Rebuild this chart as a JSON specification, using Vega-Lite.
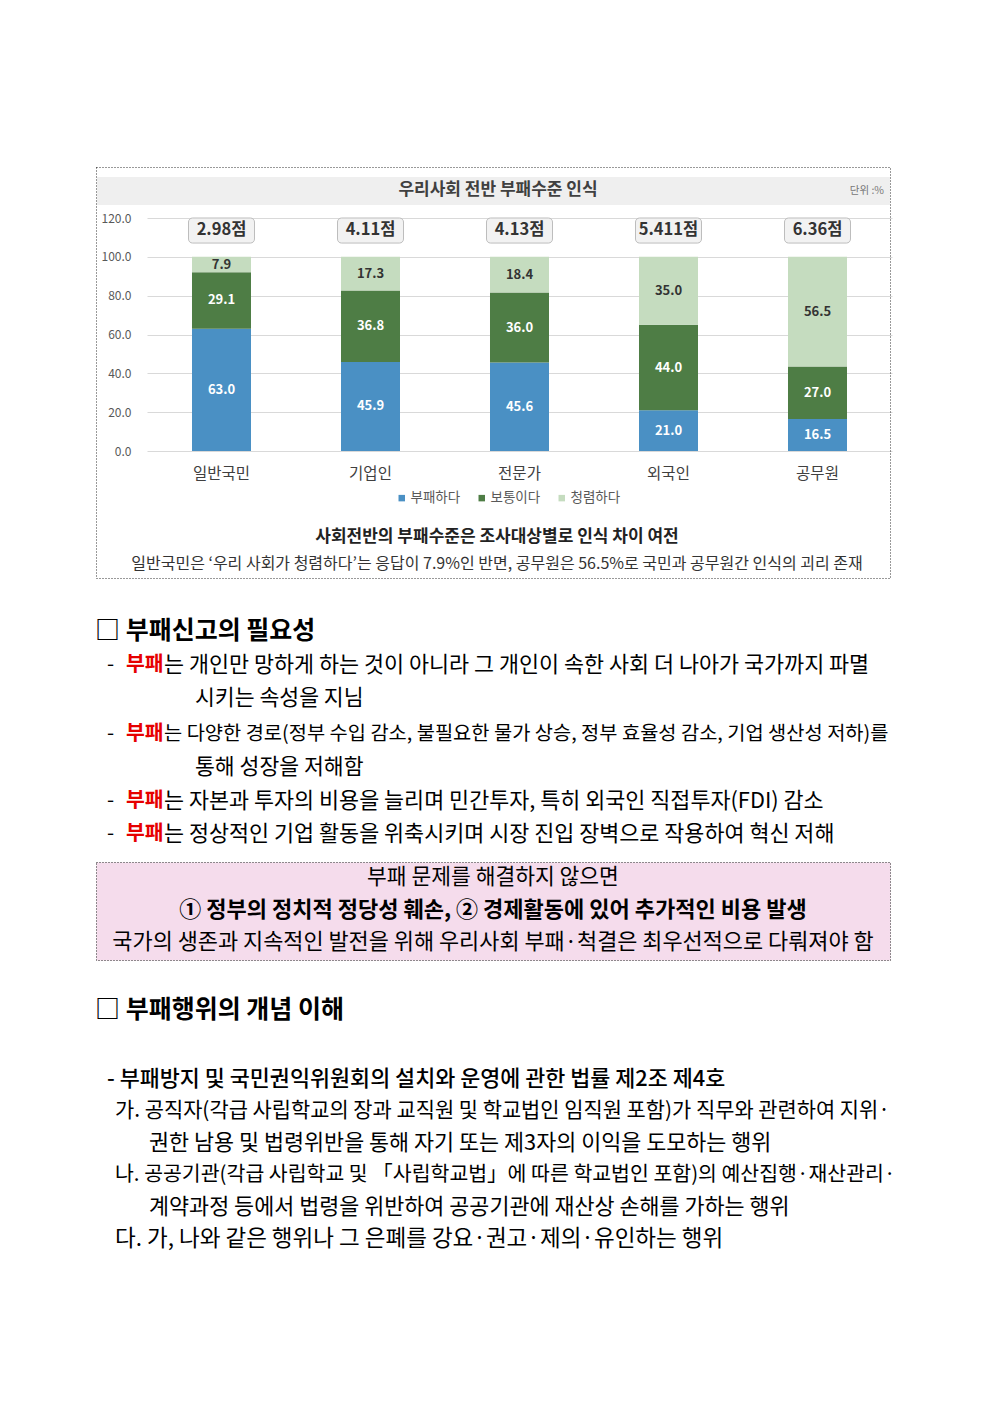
{
  "$schema": "https://vega.github.io/schema/vega-lite/v6.json",
  "width": 992,
  "height": 1403,
  "autosize": {"type": "none"},
  "padding": 0,
  "background": "#ffffff",
  "config": {"view": {"stroke": null}, "font": "Noto Sans CJK KR"},
  "data": {"values": [{}]},
  "layer": [
    {"mark": {"type": "rect", "fill": "transparent", "stroke": "#333333", "strokeDash": [1, 2], "strokeWidth": 1},
     "encoding": {"x": {"value": 96.5}, "x2": {"value": 890.5}, "y": {"value": 167.5}, "y2": {"value": 578.5}}},
    {"mark": {"type": "rect", "fill": "#efefef"},
     "encoding": {"x": {"value": 97}, "x2": {"value": 890}, "y": {"value": 177}, "y2": {"value": 205}}},
    {"mark": {"type": "rect", "fill": "#f5dcec", "stroke": "#222222", "strokeDash": [1, 2], "strokeWidth": 1},
     "encoding": {"x": {"value": 96.5}, "x2": {"value": 890.5}, "y": {"value": 862.5}, "y2": {"value": 960.5}}},
    {"mark": {"type": "text", "align": "center", "baseline": "middle", "fontSize": 17, "fontWeight": "bold", "color": "#404040"},
     "encoding": {"x": {"value": 498}, "y": {"value": 190}, "text": {"value": "우리사회 전반 부패수준 인식"}}},
    {"mark": {"type": "text", "align": "right", "baseline": "middle", "fontSize": 10.5, "color": "#777777"},
     "encoding": {"x": {"value": 884}, "y": {"value": 191}, "text": {"value": "단위 :%"}}},
    {
      "data": {"values": [
        {"group": "일반국민", "resp": "부패하다", "k": 1, "value": 63.0},
        {"group": "일반국민", "resp": "보통이다", "k": 2, "value": 29.1},
        {"group": "일반국민", "resp": "청렴하다", "k": 3, "value": 7.9},
        {"group": "기업인", "resp": "부패하다", "k": 1, "value": 45.9},
        {"group": "기업인", "resp": "보통이다", "k": 2, "value": 36.8},
        {"group": "기업인", "resp": "청렴하다", "k": 3, "value": 17.3},
        {"group": "전문가", "resp": "부패하다", "k": 1, "value": 45.6},
        {"group": "전문가", "resp": "보통이다", "k": 2, "value": 36.0},
        {"group": "전문가", "resp": "청렴하다", "k": 3, "value": 18.4},
        {"group": "외국인", "resp": "부패하다", "k": 1, "value": 21.0},
        {"group": "외국인", "resp": "보통이다", "k": 2, "value": 44.0},
        {"group": "외국인", "resp": "청렴하다", "k": 3, "value": 35.0},
        {"group": "공무원", "resp": "부패하다", "k": 1, "value": 16.5},
        {"group": "공무원", "resp": "보통이다", "k": 2, "value": 27.0},
        {"group": "공무원", "resp": "청렴하다", "k": 3, "value": 56.5}
      ]},
      "layer": [
        {
          "mark": {"type": "bar"},
          "encoding": {
            "x": {"field": "group", "type": "nominal",
                  "scale": {"domain": ["일반국민", "기업인", "전문가", "외국인", "공무원"], "range": [147, 892], "paddingInner": 0.604, "paddingOuter": 0.302},
                  "axis": {"orient": "bottom", "offset": -952, "labelPadding": 15, "labelAngle": 0, "domain": false, "ticks": false, "tickSize": 0, "grid": false, "title": null, "labelFontSize": 15.5, "labelColor": "#404040", "labelBaseline": "top"}},
            "y": {"field": "value", "type": "quantitative", "stack": "zero",
                  "scale": {"domain": [0, 120], "range": [451, 218], "nice": false, "zero": false},
                  "axis": {"values": [0, 20, 40, 60, 80, 100, 120], "format": ".1f", "grid": true, "gridColor": "#d9d9d9", "gridWidth": 1, "domain": false, "ticks": false, "tickSize": 0, "labelPadding": -131, "labelFontSize": 12, "labelColor": "#595959", "title": null}},
            "color": {"field": "resp", "type": "nominal",
                      "scale": {"domain": ["부패하다", "보통이다", "청렴하다"], "range": ["#4a90c4", "#4e7d45", "#c5dcbf"]},
                      "legend": {"orient": "none", "legendX": 395, "legendY": 491, "direction": "horizontal", "title": null, "symbolType": "square", "symbolSize": 42, "symbolStrokeWidth": 0, "labelFontSize": 13.5, "labelColor": "#595959", "columnPadding": 14, "labelOffset": 2}},
            "order": {"field": "k", "type": "quantitative"}
          }
        },
        {
          "transform": [
            {"stack": "value", "groupby": ["group"], "sort": [{"field": "k", "order": "ascending"}], "as": ["y0", "y1"]},
            {"fold": ["y0", "y1"], "as": ["end", "pos"]}
          ],
          "mark": {"type": "text", "align": "center", "baseline": "middle", "fontSize": 13, "fontWeight": "bold"},
          "encoding": {
            "x": {"field": "group", "type": "nominal",
                  "scale": {"domain": ["일반국민", "기업인", "전문가", "외국인", "공무원"], "range": [147, 892], "paddingInner": 0.604, "paddingOuter": 0.302},
                  "axis": {"orient": "bottom", "offset": -952, "labelPadding": 15, "labelAngle": 0, "domain": false, "ticks": false, "tickSize": 0, "grid": false, "title": null, "labelFontSize": 15.5, "labelColor": "#404040", "labelBaseline": "top"}},
            "y": {"aggregate": "mean", "field": "pos", "type": "quantitative", "stack": null,
                  "scale": {"domain": [0, 120], "range": [451, 218], "nice": false, "zero": false},
                  "axis": {"values": [0, 20, 40, 60, 80, 100, 120], "format": ".1f", "grid": true, "gridColor": "#d9d9d9", "gridWidth": 1, "domain": false, "ticks": false, "tickSize": 0, "labelPadding": -131, "labelFontSize": 12, "labelColor": "#595959", "title": null}},
            "detail": {"field": "resp", "type": "nominal"},
            "text": {"field": "value", "type": "quantitative", "format": ".1f"},
            "color": {"condition": {"test": "datum.resp === '청렴하다'", "value": "#333333"}, "value": "#ffffff"}
          }
        }
      ]
    },
    {
      "data": {"values": [
        {"group": "일반국민", "score": "2.98점"},
        {"group": "기업인", "score": "4.11점"},
        {"group": "전문가", "score": "4.13점"},
        {"group": "외국인", "score": "5.411점"},
        {"group": "공무원", "score": "6.36점"}
      ]},
      "layer": [
        {
          "mark": {"type": "bar", "width": 66, "cornerRadius": 4, "fill": "#f2f2f2", "stroke": "#bdbdbd", "strokeWidth": 1},
          "encoding": {
            "x": {"field": "group", "type": "nominal",
                  "scale": {"domain": ["일반국민", "기업인", "전문가", "외국인", "공무원"], "range": [147, 892], "paddingInner": 0.604, "paddingOuter": 0.302},
                  "axis": {"orient": "bottom", "offset": -952, "labelPadding": 15, "labelAngle": 0, "domain": false, "ticks": false, "tickSize": 0, "grid": false, "title": null, "labelFontSize": 15.5, "labelColor": "#404040", "labelBaseline": "top"}},
            "y": {"datum": 120, "type": "quantitative",
                  "scale": {"domain": [0, 120], "range": [451, 218], "nice": false, "zero": false},
                  "axis": {"values": [0, 20, 40, 60, 80, 100, 120], "format": ".1f", "grid": true, "gridColor": "#d9d9d9", "gridWidth": 1, "domain": false, "ticks": false, "tickSize": 0, "labelPadding": -131, "labelFontSize": 12, "labelColor": "#595959", "title": null}},
            "y2": {"datum": 107.1}
          }
        },
        {
          "mark": {"type": "text", "align": "center", "baseline": "middle", "fontSize": 16.5, "fontWeight": "bold", "color": "#333333"},
          "encoding": {
            "x": {"field": "group", "type": "nominal",
                  "scale": {"domain": ["일반국민", "기업인", "전문가", "외국인", "공무원"], "range": [147, 892], "paddingInner": 0.604, "paddingOuter": 0.302},
                  "axis": {"orient": "bottom", "offset": -952, "labelPadding": 15, "labelAngle": 0, "domain": false, "ticks": false, "tickSize": 0, "grid": false, "title": null, "labelFontSize": 15.5, "labelColor": "#404040", "labelBaseline": "top"}},
            "y": {"datum": 113.6, "type": "quantitative",
                  "scale": {"domain": [0, 120], "range": [451, 218], "nice": false, "zero": false},
                  "axis": {"values": [0, 20, 40, 60, 80, 100, 120], "format": ".1f", "grid": true, "gridColor": "#d9d9d9", "gridWidth": 1, "domain": false, "ticks": false, "tickSize": 0, "labelPadding": -131, "labelFontSize": 12, "labelColor": "#595959", "title": null}},
            "text": {"field": "score", "type": "nominal"}
          }
        }
      ]
    },
    {"mark": {"type": "text", "align": "center", "baseline": "middle", "fontSize": 17, "fontWeight": "bold", "color": "#222222"},
     "encoding": {"x": {"value": 497}, "y": {"value": 537}, "text": {"value": "사회전반의 부패수준은 조사대상별로 인식 차이 여전"}}},
    {"mark": {"type": "text", "align": "center", "baseline": "middle", "fontSize": 16, "color": "#333333"},
     "encoding": {"x": {"value": 497}, "y": {"value": 564}, "text": {"value": "일반국민은 ‘우리 사회가 청렴하다’는 응답이 7.9%인 반면, 공무원은 56.5%로 국민과 공무원간 인식의 괴리 존재"}}},

    {"mark": {"type": "text", "align": "left", "baseline": "middle", "fontSize": 25, "fontWeight": "bold", "color": "#000000"},
     "encoding": {"x": {"value": 95}, "y": {"value": 631}, "text": {"value": "□ 부패신고의 필요성"}}},

    {"mark": {"type": "text", "align": "left", "baseline": "middle", "fontSize": 20.5, "color": "#000000"},
     "encoding": {"x": {"value": 107}, "y": {"value": 665}, "text": {"value": "-"}}},
    {"mark": {"type": "text", "align": "left", "baseline": "middle", "fontSize": 20.5, "fontWeight": "bold", "color": "#e60000"},
     "encoding": {"x": {"value": 126}, "y": {"value": 665}, "text": {"value": "부패"}}},
    {"mark": {"type": "text", "align": "left", "baseline": "middle", "fontSize": 21.8, "color": "#000000"},
     "encoding": {"x": {"value": 164}, "y": {"value": 665}, "text": {"value": "는 개인만 망하게 하는 것이 아니라 그 개인이 속한 사회 더 나아가 국가까지 파멸"}}},
    {"mark": {"type": "text", "align": "left", "baseline": "middle", "fontSize": 21.6, "color": "#000000"},
     "encoding": {"x": {"value": 195}, "y": {"value": 699}, "text": {"value": "시키는 속성을 지님"}}},

    {"mark": {"type": "text", "align": "left", "baseline": "middle", "fontSize": 20.5, "color": "#000000"},
     "encoding": {"x": {"value": 107}, "y": {"value": 734}, "text": {"value": "-"}}},
    {"mark": {"type": "text", "align": "left", "baseline": "middle", "fontSize": 20.5, "fontWeight": "bold", "color": "#e60000"},
     "encoding": {"x": {"value": 126}, "y": {"value": 734}, "text": {"value": "부패"}}},
    {"mark": {"type": "text", "align": "left", "baseline": "middle", "fontSize": 19.8, "color": "#000000"},
     "encoding": {"x": {"value": 164}, "y": {"value": 734}, "text": {"value": "는 다양한 경로(정부 수입 감소, 불필요한 물가 상승, 정부 효율성 감소, 기업 생산성 저하)를"}}},
    {"mark": {"type": "text", "align": "left", "baseline": "middle", "fontSize": 21.6, "color": "#000000"},
     "encoding": {"x": {"value": 195}, "y": {"value": 768}, "text": {"value": "통해 성장을 저해함"}}},

    {"mark": {"type": "text", "align": "left", "baseline": "middle", "fontSize": 20.5, "color": "#000000"},
     "encoding": {"x": {"value": 107}, "y": {"value": 801}, "text": {"value": "-"}}},
    {"mark": {"type": "text", "align": "left", "baseline": "middle", "fontSize": 20.5, "fontWeight": "bold", "color": "#e60000"},
     "encoding": {"x": {"value": 126}, "y": {"value": 801}, "text": {"value": "부패"}}},
    {"mark": {"type": "text", "align": "left", "baseline": "middle", "fontSize": 21.8, "color": "#000000"},
     "encoding": {"x": {"value": 164}, "y": {"value": 801}, "text": {"value": "는 자본과 투자의 비용을 늘리며 민간투자, 특히 외국인 직접투자(FDI) 감소"}}},

    {"mark": {"type": "text", "align": "left", "baseline": "middle", "fontSize": 20.5, "color": "#000000"},
     "encoding": {"x": {"value": 107}, "y": {"value": 834}, "text": {"value": "-"}}},
    {"mark": {"type": "text", "align": "left", "baseline": "middle", "fontSize": 20.5, "fontWeight": "bold", "color": "#e60000"},
     "encoding": {"x": {"value": 126}, "y": {"value": 834}, "text": {"value": "부패"}}},
    {"mark": {"type": "text", "align": "left", "baseline": "middle", "fontSize": 21.8, "color": "#000000"},
     "encoding": {"x": {"value": 164}, "y": {"value": 834}, "text": {"value": "는 정상적인 기업 활동을 위축시키며 시장 진입 장벽으로 작용하여 혁신 저해"}}},

    {"mark": {"type": "text", "align": "center", "baseline": "middle", "fontSize": 21.5, "color": "#000000"},
     "encoding": {"x": {"value": 493}, "y": {"value": 878}, "text": {"value": "부패 문제를 해결하지 않으면"}}},
    {"mark": {"type": "text", "align": "center", "baseline": "middle", "fontSize": 22, "fontWeight": "bold", "color": "#000000"},
     "encoding": {"x": {"value": 493}, "y": {"value": 910}, "text": {"value": "① 정부의 정치적 정당성 훼손, ② 경제활동에 있어 추가적인 비용 발생"}}},
    {"mark": {"type": "text", "align": "center", "baseline": "middle", "fontSize": 21.9, "color": "#000000"},
     "encoding": {"x": {"value": 493}, "y": {"value": 942}, "text": {"value": "국가의 생존과 지속적인 발전을 위해 우리사회 부패·척결은 최우선적으로 다뤄져야 함"}}},

    {"mark": {"type": "text", "align": "left", "baseline": "middle", "fontSize": 25, "fontWeight": "bold", "color": "#000000"},
     "encoding": {"x": {"value": 95}, "y": {"value": 1010}, "text": {"value": "□ 부패행위의 개념 이해"}}},

    {"mark": {"type": "text", "align": "left", "baseline": "middle", "fontSize": 21.8, "fontWeight": 500, "color": "#000000"},
     "encoding": {"x": {"value": 107}, "y": {"value": 1079}, "text": {"value": "- 부패방지 및 국민권익위원회의 설치와 운영에 관한 법률 제2조 제4호"}}},
    {"mark": {"type": "text", "align": "left", "baseline": "middle", "fontSize": 20.9, "color": "#000000"},
     "encoding": {"x": {"value": 115}, "y": {"value": 1111}, "text": {"value": "가. 공직자(각급 사립학교의 장과 교직원 및 학교법인 임직원 포함)가 직무와 관련하여 지위·"}}},
    {"mark": {"type": "text", "align": "left", "baseline": "middle", "fontSize": 21.8, "color": "#000000"},
     "encoding": {"x": {"value": 149}, "y": {"value": 1143}, "text": {"value": "권한 남용 및 법령위반을 통해 자기 또는 제3자의 이익을 도모하는 행위"}}},
    {"mark": {"type": "text", "align": "left", "baseline": "middle", "fontSize": 20.5, "color": "#000000"},
     "encoding": {"x": {"value": 115}, "y": {"value": 1175}, "text": {"value": "나. 공공기관(각급 사립학교 및 「사립학교법」에 따른 학교법인 포함)의 예산집행·재산관리·"}}},
    {"mark": {"type": "text", "align": "left", "baseline": "middle", "fontSize": 21.8, "color": "#000000"},
     "encoding": {"x": {"value": 149}, "y": {"value": 1207}, "text": {"value": "계약과정 등에서 법령을 위반하여 공공기관에 재산상 손해를 가하는 행위"}}},
    {"mark": {"type": "text", "align": "left", "baseline": "middle", "fontSize": 22.5, "color": "#000000"},
     "encoding": {"x": {"value": 115}, "y": {"value": 1239}, "text": {"value": "다. 가, 나와 같은 행위나 그 은폐를 강요·권고·제의·유인하는 행위"}}}
  ]
}
